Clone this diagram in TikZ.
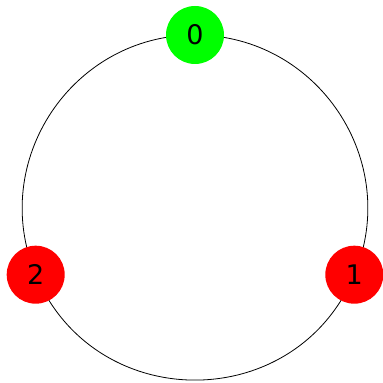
\documentclass[tikz,border=0pt]{standalone}
\usepackage{fontspec}
\setmainfont{DejaVu Sans}
\usetikzlibrary{backgrounds}
\definecolor{nodegreen}{RGB}{0,255,0}
\definecolor{nodered}{RGB}{255,0,0}
\begin{document}
\begin{tikzpicture}[x=1pt,y=1pt,
  vertex/.style={circle,minimum size=58pt,inner sep=0pt,font=\fontsize{27}{27}\selectfont},
  edge/.style={draw=black,line width=0.8pt}]
\useasboundingbox (0,0) rectangle (383,383);
\node[vertex,fill=nodegreen] (n0) at (195,348) {0};
\node[vertex,fill=nodered] (n1) at (354.3,108.3) {1};
\node[vertex,fill=nodered] (n2) at (35.7,108.3) {2};
\begin{scope}[on background layer]
\draw[edge] (n0.center) to[bend left=56.4,looseness=1.096] (n1.center);
\draw[edge] (n1.center) to[bend left=67.2,looseness=1.227] (n2.center);
\draw[edge] (n2.center) to[bend left=56.4,looseness=1.096] (n0.center);
\end{scope}
\end{tikzpicture}
\end{document}
